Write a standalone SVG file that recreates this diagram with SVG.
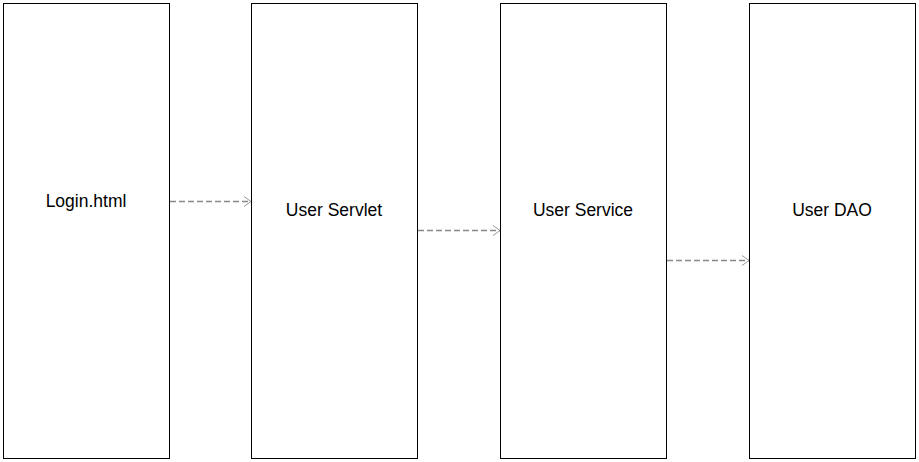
<svg xmlns="http://www.w3.org/2000/svg" width="919" height="462" viewBox="0 0 919 462">
<defs>
<style>
.box{fill:#fff;stroke:#000;stroke-width:1}
.lbl{font-family:"Liberation Sans",Arial,sans-serif;font-size:17.5px;fill:#000;text-anchor:middle}
.conn{stroke:#888;stroke-width:1.4;stroke-dasharray:6,3;fill:none}
</style>
<marker id="arr" markerWidth="10" markerHeight="12" refX="8" refY="6" orient="auto" markerUnits="userSpaceOnUse">
<path d="M1,1 L8,6 L1,11" fill="none" stroke="#999" stroke-width="1"/>
</marker>
</defs>
<g id="login"><rect class="box" x="3.5" y="3.5" width="166" height="455"/><text class="lbl" x="86" y="207">Login.html</text></g>
<g id="servlet"><rect class="box" x="251.5" y="3.5" width="166" height="455"/><text class="lbl" x="334" y="216">User Servlet</text></g>
<g id="service"><rect class="box" x="500.5" y="3.5" width="166" height="455"/><text class="lbl" x="583" y="216">User Service</text></g>
<g id="dao"><rect class="box" x="749.5" y="3.5" width="166" height="455"/><text class="lbl" x="832" y="216">User DAO</text></g>
<g id="connectors">
<line class="conn" x1="170" y1="201.5" x2="251" y2="201.5" marker-end="url(#arr)"/>
<line class="conn" x1="418" y1="230.5" x2="500" y2="230.5" marker-end="url(#arr)"/>
<line class="conn" x1="667" y1="260.5" x2="749" y2="260.5" marker-end="url(#arr)"/>
</g>
</svg>
